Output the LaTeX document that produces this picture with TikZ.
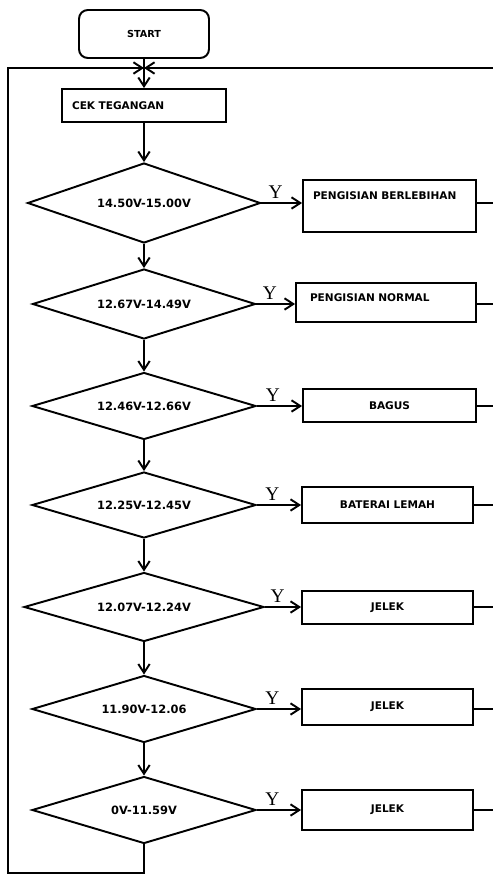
\documentclass[tikz,border=0pt]{standalone}
\usepackage{fontspec}
\setmainfont{Liberation Serif}
\newfontfamily\flowfont{DejaVu Sans}
\usetikzlibrary{arrows.meta,shapes.geometric}

\begin{document}
\begin{tikzpicture}[
    x=0.02cm,
    y=-0.02cm,
    line width=1.1pt,
    >={Straight Barb[length=5pt,width=6.5pt]},
    box/.style={draw, rectangle, inner sep=0pt, font=\flowfont\bfseries\fontsize{6}{7}\selectfont},
    cond/.style={draw, diamond, shape aspect=3, inner sep=0pt, minimum width=4.48cm, minimum height=1.34cm, font=\flowfont\bfseries\fontsize{6.5}{7}\selectfont},
    ylab/.style={above, inner sep=1pt, yshift=1pt, font=\fontsize{11}{13}\selectfont}
  ]
    \useasboundingbox (0,0) rectangle (493,875);
    \node[box, rounded corners=5pt, minimum width=2.6cm, minimum height=0.96cm, font=\flowfont\bfseries\fontsize{5.5}{6}\selectfont] (start) at (144,34) {START};
    \node[box, minimum height=0.66cm, text width=2.88cm, inner xsep=0.2cm, align=left] (cek) at (144,105.5) {CEK TEGANGAN};
    \node[cond, minimum width=4.66cm, minimum height=1.6cm] (d1) at (144,203) {14.50V-15.00V};
    \node[cond, minimum width=4.46cm, minimum height=1.4cm] (d2) at (144,304) {12.67V-14.49V};
    \node[cond] (d3) at (144,406) {12.46V-12.66V};
    \node[cond, minimum height=1.32cm] (d4) at (144,505) {12.25V-12.45V};
    \node[cond, minimum width=4.8cm, minimum height=1.38cm] (d5) at (144,607) {12.07V-12.24V};
    \node[cond] (d6) at (144,709) {11.90V-12.06};
    \node[cond] (d7) at (144,810) {0V-11.59V};
    \node[box, text height=0.39cm, text depth=0.65cm, text width=3.06cm, inner xsep=0.2cm, align=left] (b1) at (389.5,206) {PENGISIAN BERLEBIHAN};
    \node[box, text height=0.37cm, text depth=0.41cm, text width=3.04cm, inner xsep=0.28cm, align=left] (b2) at (386,302.5) {PENGISIAN NORMAL};
    \node[box, minimum width=3.46cm, minimum height=0.66cm] (b3) at (389.5,405.5) {BAGUS};
    \node[box, minimum width=3.42cm, minimum height=0.72cm] (b4) at (387.5,505) {BATERAI LEMAH};
    \node[box, minimum width=3.42cm, minimum height=0.66cm] (b5) at (387.5,607.5) {JELEK};
    \node[box, minimum width=3.42cm, minimum height=0.72cm] (b6) at (387.5,707) {JELEK};
    \node[box, minimum width=3.42cm, minimum height=0.8cm] (b7) at (387.5,810) {JELEK};
    \coordinate (j) at (144,68);
    \coordinate (rr) at (496,68);
    \coordinate (lb) at (8,873);
    \draw[->] (start) -- (cek);
    \draw[->] (cek) -- (d1);
    \foreach \a/\b in {d1/d2,d2/d3,d3/d4,d4/d5,d5/d6,d6/d7} {
      \draw[->] (\a) -- (\b);
    }
    \foreach \i in {1,...,7} {
      \draw[->] (d\i.east) -- node[ylab, pos=0.35] (y\i) {Y} (d\i.east -| b\i.west);
      \draw (b\i.east |- d\i.east) -- (d\i.east -| rr);
    }
    \draw[->] (d7.east -| rr) -- (rr) -- (j);
    \draw[->] (d7.south) |- (lb) |- (j);
  \end{tikzpicture}
\end{document}
